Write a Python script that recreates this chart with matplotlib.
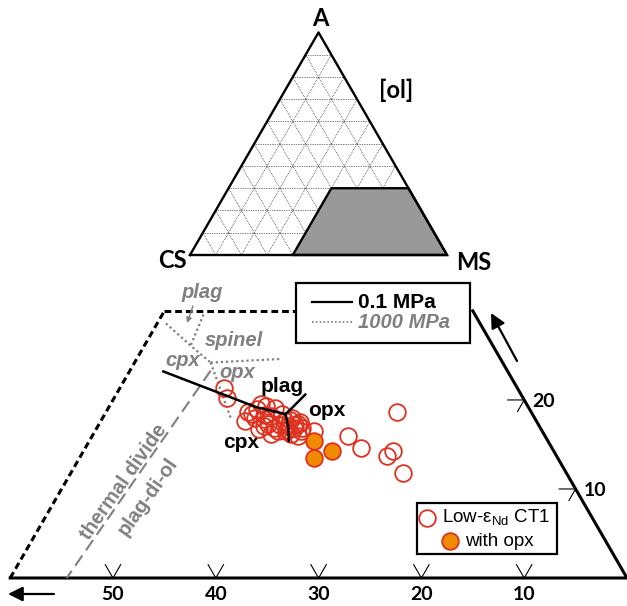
import numpy as np
import matplotlib.pyplot as plt
from matplotlib.patches import Polygon, Rectangle

plt.rcParams['font.family'] = ['Liberation Sans', 'DejaVu Sans']
plt.rcParams['mathtext.fontset'] = 'custom'
plt.rcParams['mathtext.rm'] = 'Liberation Sans'

GRAY = '#808080'
RED = '#e0301e'
ORANGE = '#f08a00'

# lower diagram, projected from ol: wt% CS and A (MS = 100 - CS - A)
ct1_cs = [28.6, 28.8, 27.5, 25.9, 26.5, 25.5, 28.4, 27.2, 27.4, 26.8, 26.3,
          25.5, 25.9, 25.7, 26.5, 24.5, 24.4, 24.4, 24.0, 23.4, 23.5, 24.0,
          24.6, 22.2, 19.1, 18.6, 13.1, 16.5, 15.6, 15.9, 27.3, 26.4, 24.9,
          23.9, 23.7, 23.1, 24.7, 23.6, 25.2, 26.1, 24.7, 23.2]
ct1_a = [21.3, 20.2, 18.7, 19.5, 19.0, 19.3, 17.6, 18.0, 16.7, 17.1, 17.3,
         18.2, 16.8, 16.5, 16.2, 17.6, 18.4, 17.1, 16.8, 17.3, 16.5, 16.0,
         16.2, 16.5, 16.0, 14.6, 18.6, 13.7, 14.3, 11.8, 18.4, 17.9, 16.5,
         17.8, 17.2, 17.5, 16.6, 18.0, 17.2, 18.3, 19.1, 16.9]
opx_cs = [22.7, 21.5, 23.7]
opx_a = [15.4, 14.3, 13.5]

# 0.1 MPa cotectics
p01_plag_cpx_cs = [33.5, 30.7, 28.4, 26.5, 24.0]
p01_plag_cpx_a = [23.2, 21.6, 20.3, 19.2, 18.4]
p01_plag_opx_cs = [24.0, 21.0]
p01_plag_opx_a = [18.4, 20.6]
p01_cpx_opx_cs = [24.0, 24.5, 25.2]
p01_cpx_opx_a = [18.4, 16.9, 15.4]

# 1000 MPa boundaries
p1000_cpx_cs = [30.55, 29.4, 28.4]
p1000_cpx_a = [28.6, 26.1, 24.2]
p1000_plag_sp_cs = [26.4, 29.4]
p1000_plag_sp_a = [29.6, 26.1]
p1000_sp_opx_cs = [28.4, 21.45]
p1000_sp_opx_a = [24.2, 24.6]
p1000_cpx_opx_cs = [28.4, 29.6]
p1000_cpx_opx_a = [24.2, 17.8]

# plag-di-ol thermal divide
divide_cs = [28.85, 54.5]
divide_a = [23.3, 0.0]

bottom_ticks = [10, 20, 30, 40, 50]
right_ticks = [10, 20]

fig = plt.figure(figsize=(6.27, 6.06), dpi=100)
ax = fig.add_axes([0, 0, 1, 1])
ax.set_xlim(0, 627)
ax.set_ylim(606, 0)
ax.axis('off')


def lower(cs, a):
    cs = np.asarray(cs, dtype=float)
    a = np.asarray(a, dtype=float)
    return 627 - 10.28 * (cs + a / 2), 578 - 10.28 * 0.866 * a


def upper(cs, a):
    cs = np.asarray(cs, dtype=float)
    a = np.asarray(a, dtype=float)
    ms = 100 - cs - a
    return 190 + 2.57 * (ms + a / 2), 255 - 2.57 * 0.866 * a


# ---- upper triangle
for v in range(10, 100, 10):
    for cs, a in [([100 - v, 0], [v, v]), ([v, v], [0, 100 - v]),
                  ([100 - v, 0], [0, 100 - v])]:
        x, y = upper(cs, a)
        ax.plot(x, y, color='black', lw=0.5, ls=(0, (1, 1.5)), zorder=1)
x, y = upper([100, 0, 0, 100], [0, 0, 100, 0])
ax.plot(x, y, color='black', lw=1.7, zorder=3)
x, y = upper([60, 0, 0, 30], [0, 0, 30, 30])
ax.add_patch(Polygon(np.column_stack([x, y]), closed=True, fc='#999999',
                     ec='black', lw=1.7, zorder=2))
big = dict(family=['Lato', 'DejaVu Sans'], fontweight='bold', fontsize=17,
           ha='center', va='center')
ax.text(320, 18, 'A', **big)
ax.text(172, 261, 'CS', **big)
ax.text(474, 262, 'MS', **big)
ax.text(396, 90, '[ol]', **big)

# ---- lower diagram frame
x, y = lower([30, 0], [30, 30])
ax.plot(x, y, color='black', lw=2.2, dashes=(2.2, 1.3), zorder=3)
x, y = lower([60, 30], [0, 30])
ax.plot(x, y, color='black', lw=2.2, dashes=(2.2, 1.3), zorder=3)
x, y = lower([60, 0, 0], [0, 0, 30])
ax.plot(x, y, color='black', lw=2.2, zorder=3, solid_joinstyle='miter')

for c in bottom_ticks:
    x, y = lower([c, c, c - 1.5], [1.5, 0, 1.5])
    ax.plot(x, y, color='black', lw=0.8, zorder=3)
    ax.text(x[1], 594, str(c), family=['Lato', 'DejaVu Sans'],
            fontweight='bold', fontsize=14, ha='center', va='center')
for a in right_ticks:
    x, y = lower([1.6, 0, 1.3], [a, a, a - 1.3])
    ax.plot(x, y, color='black', lw=0.8, zorder=3)
    ax.text(x[1] + 8, y[1] + 2, str(a), family=['Lato', 'DejaVu Sans'],
            fontweight='bold', fontsize=14, ha='left', va='center')

ax.annotate('', xy=(8, 594), xytext=(54, 594),
            arrowprops=dict(arrowstyle='-|>', color='black', lw=1.6,
                            mutation_scale=22, shrinkA=0, shrinkB=0))
ax.annotate('', xy=(491, 313), xytext=(517, 361),
            arrowprops=dict(arrowstyle='-|>', color='black', lw=1.6,
                            mutation_scale=22, shrinkA=0, shrinkB=0))

# ---- 1000 MPa boundaries
dot = dict(color=GRAY, lw=1.6, ls=(0, (1, 1.3)), zorder=4)
for cs, a in [(p1000_cpx_cs, p1000_cpx_a), (p1000_plag_sp_cs, p1000_plag_sp_a),
              (p1000_sp_opx_cs, p1000_sp_opx_a),
              (p1000_cpx_opx_cs, p1000_cpx_opx_a)]:
    x, y = lower(cs, a)
    ax.plot(x, y, **dot)
x, y = lower(divide_cs, divide_a)
ax.plot(x, y, color=GRAY, lw=1.5, dashes=(6, 3), zorder=4)
ax.annotate('', xy=(187, 323), xytext=(193, 306),
            arrowprops=dict(arrowstyle='-|>', color=GRAY, lw=1.0,
                            mutation_scale=8, shrinkA=0, shrinkB=0))

gl = dict(color=GRAY, fontweight='bold', fontstyle='italic', fontsize=14.5,
          ha='center', va='center')
ax.text(202, 293, 'plag', **gl)
ax.text(234, 340, 'spinel', **gl)
ax.text(183, 360, 'cpx', **gl)
ax.text(237, 372, 'opx', **gl)
ax.text(124, 482, 'thermal divide', color=GRAY, fontweight='bold',
        fontsize=14.5, rotation=55, ha='center', va='center')
ax.text(148, 497, 'plag-di-ol', color=GRAY, fontweight='bold',
        fontsize=14.5, rotation=55, ha='center', va='center')

# ---- samples
x, y = lower(ct1_cs, ct1_a)
ax.plot(x, y, 'o', mfc='none', mec=RED, ms=12, mew=1.3, zorder=5)
x, y = lower(opx_cs, opx_a)
ax.plot(x, y, 'o', mfc=ORANGE, mec=RED, ms=12, mew=1.3, zorder=6)

# ---- 0.1 MPa cotectics
for cs, a in [(p01_plag_cpx_cs, p01_plag_cpx_a),
              (p01_plag_opx_cs, p01_plag_opx_a),
              (p01_cpx_opx_cs, p01_cpx_opx_a)]:
    x, y = lower(cs, a)
    ax.plot(x, y, color='black', lw=1.8, zorder=7)
bl = dict(color='black', fontweight='bold', fontsize=15, ha='center',
          va='center')
ax.text(282, 386, 'plag', **bl)
ax.text(327, 411, 'opx', **bl)
ax.text(241, 443, 'cpx', **bl)

# ---- pressure key
ax.add_patch(Rectangle((296, 283), 174, 60, fc='white', ec='black', lw=1.6,
                       zorder=8))
ax.plot([312, 352], [302, 302], color='black', lw=1.6, zorder=9)
ax.plot([312, 352], [322, 322], color=GRAY, lw=1.2, ls=(0, (1, 1.3)), zorder=9)
ax.text(358, 302, '0.1 MPa', fontweight='bold', fontsize=15, va='center',
        zorder=9)
ax.text(358, 323, '1000 MPa', color=GRAY, fontweight='bold',
        fontstyle='italic', fontsize=14.5, va='center', zorder=9)

# ---- sample key
ax.add_patch(Rectangle((417, 503), 140, 51, fc='white', ec='black', lw=1.6,
                       zorder=8))
ax.plot([427], [518], 'o', mfc='none', mec=RED, ms=12, mew=1.3, zorder=9)
ax.plot([450], [541], 'o', mfc=ORANGE, mec=RED, ms=12, mew=1.3, zorder=9)
ax.text(442, 518, r'Low-ε$_{\mathregular{Nd}}$ CT1', fontsize=13.5,
        va='center', zorder=9)
ax.text(465, 541, 'with opx', fontsize=13.5, va='center', zorder=9)

fig.savefig('out.png', dpi=100)
